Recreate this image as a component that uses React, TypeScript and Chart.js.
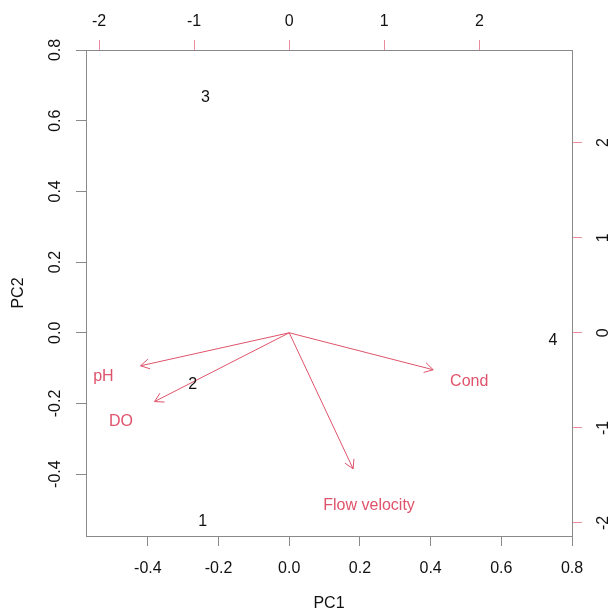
import React, { useEffect, useRef } from 'react';
import { Chart, registerables } from 'chart.js';

Chart.register(...registerables);

// Observation scores (plotted on bottom/left axes)
const OBS_LABELS = ['1', '2', '3', '4'];
const OBS_PC1 = [-0.245, -0.273, -0.237, 0.746];
const OBS_PC2 = [-0.53, -0.142, 0.671, -0.017];

// Variable loadings (plotted on top/right axes); arrows drawn to ARROW_SCALE * loading
const VAR_LABELS = ['pH', 'DO', 'Cond', 'Flow velocity'];
const VAR_PC1 = [-1.954, -1.77, 1.893, 0.84];
const VAR_PC2 = [-0.434, -0.904, -0.486, -1.788];
const ARROW_SCALE = 0.8;

const PRIMARY_TICKS = [-0.4, -0.2, 0, 0.2, 0.4, 0.6, 0.8];
const SECONDARY_TICKS = [-2, -1, 0, 1, 2];
const PRIMARY_RANGE = [-0.575, 0.8];
const SECONDARY_RANGE = [-2.137, 2.974];

const PINK = '#DF536B';
const PINK_TICK = '#EC8C9C';
const GRAY = '#8a8a8a';
const TEXT = '#111111';
const FAMILY = '"Liberation Sans", Arial, sans-serif';
const FONT_SIZE = 16;

const biplotPlugin = {
  id: 'biplotText',
  afterDatasetsDraw(chart: any) {
    const ctx = chart.ctx;
    ctx.save();
    ctx.font = `${FONT_SIZE}px ${FAMILY}`;
    ctx.textAlign = 'center';
    ctx.textBaseline = 'middle';
    // observation labels
    ctx.fillStyle = TEXT;
    const meta0 = chart.getDatasetMeta(0);
    meta0.data.forEach((el: any, i: number) => {
      ctx.fillText(OBS_LABELS[i], el.x, el.y + 1.5);
    });
    // arrowheads + variable labels
    const xs = chart.scales.x2;
    const ys = chart.scales.y2;
    VAR_LABELS.forEach((lab, i) => {
      const meta = chart.getDatasetMeta(i + 1);
      const p0 = meta.data[0];
      const p1 = meta.data[1];
      const ang = Math.atan2(p1.y - p0.y, p1.x - p0.x);
      const len = 10;
      const spread = Math.PI / 6;
      ctx.strokeStyle = PINK;
      ctx.lineWidth = 1;
      ctx.beginPath();
      ctx.moveTo(p1.x - len * Math.cos(ang - spread), p1.y - len * Math.sin(ang - spread));
      ctx.lineTo(p1.x, p1.y);
      ctx.lineTo(p1.x - len * Math.cos(ang + spread), p1.y - len * Math.sin(ang + spread));
      ctx.stroke();
      ctx.fillStyle = PINK;
      ctx.fillText(lab, xs.getPixelForValue(VAR_PC1[i]), ys.getPixelForValue(VAR_PC2[i]) + 2.5);
    });
    ctx.restore();
  },
};

function makeAxis(opts: {
  position: 'bottom' | 'left' | 'top' | 'right';
  range: number[];
  ticks: number[];
  tickColor: string;
  decimals: number;
  size: number;
  padding: number;
  title?: { text: string; padding: any };
}) {
  const vertical = opts.position === 'left' || opts.position === 'right';
  return {
    type: 'linear',
    position: opts.position,
    min: opts.range[0],
    max: opts.range[1],
    grid: {
      drawOnChartArea: false,
      drawTicks: true,
      tickLength: 10,
      tickWidth: 1,
      tickColor: opts.tickColor,
      color: opts.tickColor,
    },
    border: { display: true, color: GRAY, width: 1 },
    ticks: {
      color: TEXT,
      font: { size: FONT_SIZE, family: FAMILY },
      padding: opts.padding,
      autoSkip: false,
      minRotation: vertical ? 90 : 0,
      maxRotation: vertical ? 90 : 0,
      crossAlign: vertical ? 'center' : 'near',
      callback: (v: any) => Number(v).toFixed(opts.decimals),
    },
    title: opts.title
      ? {
          display: true,
          text: opts.title.text,
          color: TEXT,
          font: { size: FONT_SIZE, family: FAMILY },
          padding: opts.title.padding,
        }
      : { display: false },
    afterBuildTicks: (s: any) => {
      s.ticks = opts.ticks.map((v) => ({ value: v }));
    },
    afterFit: (s: any) => {
      if (vertical) s.width = opts.size;
      else s.height = opts.size;
    },
  };
}

export default function App() {
  const ref = useRef<HTMLCanvasElement | null>(null);

  useEffect(() => {
    if (!ref.current) return;
    const datasets: any[] = [
      {
        label: 'scores',
        data: OBS_PC1.map((x, i) => ({ x, y: OBS_PC2[i] })),
        pointRadius: 0,
        showLine: false,
        xAxisID: 'x',
        yAxisID: 'y',
      },
      ...VAR_LABELS.map((lab, i) => ({
        label: lab,
        data: [
          { x: 0, y: 0 },
          { x: ARROW_SCALE * VAR_PC1[i], y: ARROW_SCALE * VAR_PC2[i] },
        ],
        showLine: true,
        borderColor: PINK,
        borderWidth: 1,
        pointRadius: 0,
        xAxisID: 'x2',
        yAxisID: 'y2',
      })),
    ];
    const chart = new Chart(ref.current, {
      type: 'scatter',
      data: { datasets },
      options: {
        animation: false,
        responsive: false,
        layout: { padding: 0 },
        plugins: { legend: { display: false }, tooltip: { enabled: false } },
        scales: {
          x: makeAxis({
            position: 'bottom',
            range: PRIMARY_RANGE,
            ticks: PRIMARY_TICKS,
            tickColor: GRAY,
            decimals: 1,
            size: 79,
            padding: 12.5,
            title: { text: 'PC1', padding: { top: 0, bottom: 1.5 } },
          }),
          y: makeAxis({
            position: 'left',
            range: PRIMARY_RANGE,
            ticks: PRIMARY_TICKS,
            tickColor: GRAY,
            decimals: 1,
            size: 86,
            padding: 7,
            title: { text: 'PC2', padding: { top: 8.5, bottom: 0 } },
          }),
          x2: makeAxis({
            position: 'top',
            range: SECONDARY_RANGE,
            ticks: SECONDARY_TICKS,
            tickColor: PINK_TICK,
            decimals: 0,
            size: 50,
            padding: 8.5,
          }),
          y2: makeAxis({
            position: 'right',
            range: SECONDARY_RANGE,
            ticks: SECONDARY_TICKS,
            tickColor: PINK_TICK,
            decimals: 0,
            size: 38,
            padding: 14,
          }),
        } as any,
      },
      plugins: [biplotPlugin],
    } as any);
    return () => chart.destroy();
  }, []);

  return (
    <div style={{ position: 'fixed', left: 0, top: 0, width: 610, height: 615, background: '#fff' }}>
      <canvas ref={ref} width={610} height={615} style={{ display: 'block' }} />
    </div>
  );
}
